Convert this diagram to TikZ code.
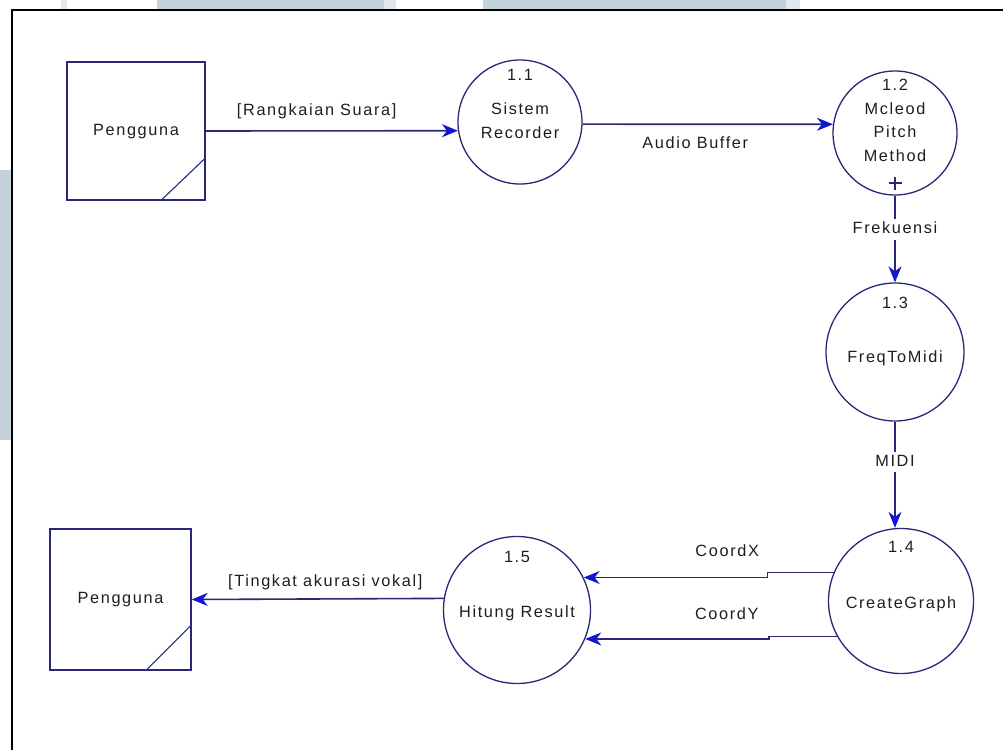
\documentclass[tikz,border=0pt]{standalone}
\usepackage{fontspec}
\setmainfont{Liberation Sans}[LetterSpace=10]
\usetikzlibrary{arrows.meta,calc}
\definecolor{dfdline}{RGB}{40,40,120}
\definecolor{dfdtip}{RGB}{20,20,210}
\definecolor{dfdtext}{RGB}{30,30,30}
\definecolor{wmark}{RGB}{196,211,218}
\definecolor{wmarklight}{RGB}{224,232,236}

\begin{document}
\begin{tikzpicture}[x=1pt,y=-1pt,
  font=\fontsize{16.3}{19}\selectfont,
  txt/.style={text=dfdtext, text height=11.5pt, text depth=3.3pt, inner sep=0pt},
  entity/.style={draw=dfdline, line width=1.4pt, minimum size=#1, inner sep=0pt, txt},
  process/.style={circle, draw=dfdline, line width=1.3pt, minimum size=#1, inner sep=0pt},
  flow/.style={draw=dfdline, line width=1.6pt,
    -{Stealth[length=16pt,width=13pt,inset=5pt,color=dfdtip]}},
  gaplabel/.style={txt, fill=white, inner sep=3pt},
  corner/.style={draw=dfdline, line width=1.1pt}]

\useasboundingbox (0,0) rectangle (1003,749);
\clip (0,0) rectangle (1003,749);

% pale blocks behind the frame
\fill[wmarklight] (61,0) rectangle (67,10);
\fill[wmark] (157,0) rectangle (384,10);
\fill[wmarklight] (384,0) rectangle (396,10);
\fill[wmark] (483,0) rectangle (786,10);
\fill[wmarklight] (786,0) rectangle (800,10);
\fill[wmark] (0,170) rectangle (11,440);

% frame
\draw[line width=2pt] (11.5,10.5) rectangle (1020,770);

% external entities
\node[entity=138pt] (p1) at (136,131) {Pengguna};
\draw[corner] ([xshift=-45pt]p1.south east) -- ([yshift=43pt]p1.south east);
\node[entity=141pt] (p2) at (120.5,599.5) {Pengguna};
\draw[corner] ([xshift=-46pt]p2.south east) -- ([yshift=46pt]p2.south east);

% processes
\node[process=124pt] (c11) at (520,122) {};
\node[txt] at ([yshift=-17pt]c11.north) {1.1};
\node[txt] at ([yshift=12pt]c11.center) {Sistem};
\node[txt] at ([yshift=-12pt]c11.center) {Recorder};

\node[process=124pt] (c12) at (895,133) {};
\node[txt] at ([yshift=-16pt]c12.north) {1.2};
\node[txt] at ([yshift=23pt]c12.center) {Mcleod};
\node[txt] at (c12.center) {Pitch};
\node[txt] at ([yshift=-24pt]c12.center) {Method};
\draw[corner] ([yshift=-50pt]c12.center) ++(-6.5,0) -- ++(13,0);
\draw[corner] ([yshift=-50pt]c12.center) ++(0,-6.5) -- ++(0,13);

\node[process=138pt] (c13) at (895,352) {};
\node[txt] at ([yshift=-22pt]c13.north) {1.3};
\node[txt] at ([yshift=-6pt]c13.center) {FreqToMidi};

\node[process=145pt] (c14) at (901,601) {};
\node[txt] at ([yshift=-21pt]c14.north) {1.4};
\node[txt] at ([yshift=-3pt]c14.center) {CreateGraph};

\node[process=147pt] (c15) at (517,610) {};
\node[txt] at ([yshift=-23pt]c15.north) {1.5};
\node[txt] at ([yshift=-3pt]c15.center) {Hitung Result};

% data flows
\draw[flow] (p1.east) -- node[txt, pos=0.44, yshift=19pt] {[Rangkaian Suara]} (c11.188);
\draw[flow] (c11.-2) -- node[txt, pos=0.45, yshift=-20pt] {Audio Buffer} (c12.172);
\draw[flow] (c12.south) -- node[gaplabel, pos=0.39] {Frekuensi} (c13.north);
\draw[flow] (c13.south) -- node[gaplabel, pos=0.38] {MIDI} (c13.south |- c14.north);
\draw[flow] (c14.157) -- ++(-66,0) |- node[txt, pos=0.61, yshift=25pt] {CoordX} (c15.26);
\draw[flow] (c14.209) -- ++(-68,0) |- node[txt, pos=0.615, yshift=23.5pt] {CoordY} (c15.-23);
\draw[flow] (c15.171) -- node[txt, pos=0.47, yshift=17pt] {[Tingkat akurasi vokal]} (p2.east);
\end{tikzpicture}
\end{document}
